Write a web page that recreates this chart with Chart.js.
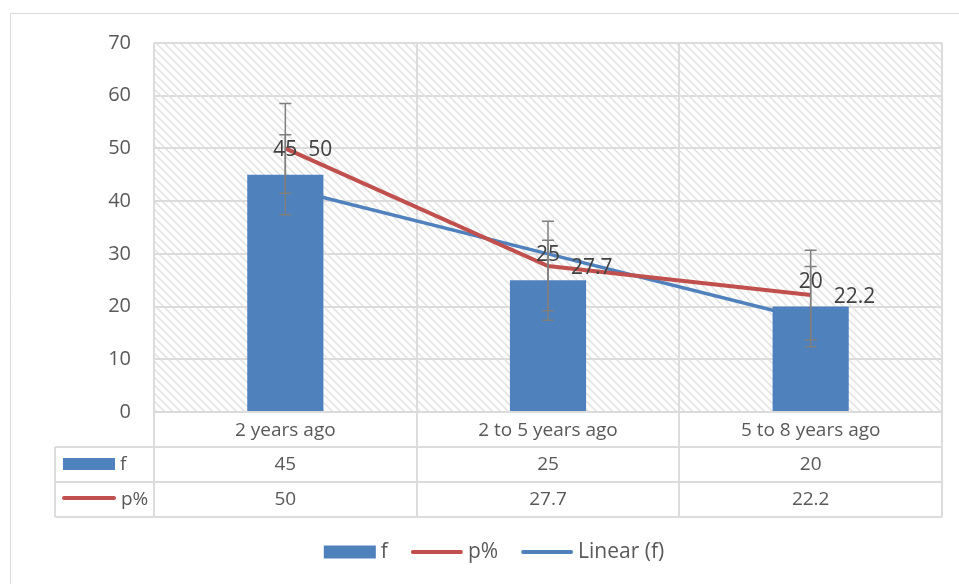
<!DOCTYPE html>
<html>
<head>
<meta charset="utf-8">
<script src="https://cdn.jsdelivr.net/npm/chart.js@4.4.1/dist/chart.umd.min.js"></script>
<style>
  html, body { margin: 0; padding: 0; background: #fff; }
  #wrap { width: 959px; height: 584px; position: relative; }
</style>
</head>
<body>
<div id="wrap"><canvas id="chart" width="959" height="584"></canvas></div>
<script>
// Categories and series
const categories = ['2 years ago', '2 to 5 years ago', '5 to 8 years ago'];
const fValues = [45, 25, 20];
const pValues = [50, 27.7, 22.2];
const trendF = [42.5, 30, 17.5];
// Error bar half-lengths
const fError = [7.6, 7.6, 7.6];
const pError = [8.5, 8.5, 8.5];
// Table row labels
const tableRows = ['f', 'p%'];

const BLUE = '#4F81BD';
const RED = '#C0504D';
const GRID = '#DCDCDC';
const TEXT = '#595959';
const FONT = '"Open Sans", "Noto Sans", sans-serif';

// Diagonal hatch for the plot background
function makeHatch() {
  const c = document.createElement('canvas');
  c.width = 8; c.height = 8;
  const g = c.getContext('2d');
  const img = g.createImageData(8, 8);
  for (let y = 0; y < 8; y++) {
    for (let x = 0; x < 8; x++) {
      const d = (x - y + 16) % 8;
      const v = d === 1 ? 226 : (d === 0 || d === 2) ? 238 : 255;
      const i = (y * 8 + x) * 4;
      img.data[i] = v; img.data[i + 1] = v; img.data[i + 2] = v; img.data[i + 3] = 255;
    }
  }
  g.putImageData(img, 0, 0);
  return c;
}

const backgroundPlugin = {
  id: 'hatchBg',
  beforeDraw(chart) {
    const { ctx, chartArea: a } = chart;
    ctx.save();
    // outer frame
    ctx.strokeStyle = '#D9D9D9';
    ctx.lineWidth = 1;
    ctx.beginPath();
    ctx.moveTo(10.5, 584);
    ctx.lineTo(10.5, 13.5);
    ctx.lineTo(959, 13.5);
    ctx.stroke();
    ctx.fillStyle = ctx.createPattern(makeHatch(), 'repeat');
    ctx.fillRect(a.left, a.top, a.right - a.left, a.bottom - a.top);
    ctx.restore();
  }
};

const errorBarPlugin = {
  id: 'errorBars',
  afterDatasetsDraw(chart) {
    const { ctx, scales: { x, y } } = chart;
    ctx.save();
    ctx.strokeStyle = '#7F7F7F';
    ctx.lineWidth = 1.5;
    const draw = (vals, errs) => {
      vals.forEach((v, i) => {
        const px = x.getPixelForValue(i);
        const top = y.getPixelForValue(v + errs[i]);
        const bot = y.getPixelForValue(v - errs[i]);
        ctx.beginPath();
        ctx.moveTo(px, top); ctx.lineTo(px, bot);
        ctx.moveTo(px - 6, top); ctx.lineTo(px + 6, top);
        ctx.moveTo(px - 6, bot); ctx.lineTo(px + 6, bot);
        ctx.stroke();
      });
    };
    draw(fValues, fError);
    draw(pValues, pError);

    // value labels
    ctx.fillStyle = '#404040';
    ctx.font = '21px ' + FONT;
    ctx.textBaseline = 'middle';
    fValues.forEach((v, i) => {
      ctx.textAlign = 'center';
      ctx.fillText(String(v), x.getPixelForValue(i), y.getPixelForValue(v) - 25);
    });
    pValues.forEach((v, i) => {
      ctx.textAlign = 'left';
      ctx.fillText(String(v), x.getPixelForValue(i) + 23, y.getPixelForValue(v) + 2);
    });
    ctx.restore();
  }
};

// Data table under the category axis, plus the legend row
const tablePlugin = {
  id: 'dataTable',
  afterDraw(chart) {
    const { ctx, chartArea: a, scales: { x } } = chart;
    const rowH = 35;
    const keyLeft = 55;
    const r1 = a.bottom + rowH, r2 = r1 + rowH, r3 = r2 + rowH;
    const bounds = [x.left];
    for (let i = 0; i < categories.length - 1; i++) {
      bounds.push((x.getPixelForValue(i) + x.getPixelForValue(i + 1)) / 2);
    }
    bounds.push(x.right);

    ctx.save();
    ctx.strokeStyle = GRID;
    ctx.lineWidth = 2;
    ctx.beginPath();
    [r1, r2, r3].forEach(ry => { ctx.moveTo(keyLeft, Math.round(ry)); ctx.lineTo(x.right, Math.round(ry)); });
    bounds.forEach(bx => { ctx.moveTo(Math.round(bx), a.bottom); ctx.lineTo(Math.round(bx), r3); });
    ctx.moveTo(keyLeft, r1); ctx.lineTo(keyLeft, r3);
    ctx.stroke();

    // row keys
    ctx.fillStyle = BLUE;
    ctx.fillRect(63, r1 + 11, 52, 12);
    ctx.strokeStyle = RED;
    ctx.lineWidth = 4;
    ctx.lineCap = 'round';
    ctx.beginPath();
    ctx.moveTo(64, r2 + 16); ctx.lineTo(114, r2 + 16);
    ctx.stroke();

    ctx.fillStyle = TEXT;
    ctx.font = '19px ' + FONT;
    ctx.textBaseline = 'middle';
    ctx.textAlign = 'left';
    ctx.fillText(tableRows[0], 120, r1 + rowH / 2);
    ctx.fillText(tableRows[1], 121, r2 + rowH / 2);

    ctx.textAlign = 'center';
    categories.forEach((c, i) => {
      const cx = x.getPixelForValue(i);
      ctx.fillText(String(fValues[i]), cx, r1 + rowH / 2);
      ctx.fillText(String(pValues[i]), cx, r2 + rowH / 2);
    });

    // legend: swatch, 5px gap, label, 23px gap to next item
    const dsets = chart.data.datasets;
    const ly = r3 + 35;
    const sw = 52;
    ctx.font = '21px ' + FONT;
    ctx.textAlign = 'left';
    const widths = dsets.map(ds => sw + 5 + ctx.measureText(ds.label).width);
    const total = widths.reduce((s, w) => s + w, 0) + 23 * (dsets.length - 1);
    let lx = 494 - total / 2;
    dsets.forEach((ds, i) => {
      if (ds.type === 'bar') {
        ctx.fillStyle = ds.backgroundColor;
        ctx.fillRect(lx, ly - 6.5, sw, 13);
      } else {
        ctx.strokeStyle = ds.borderColor;
        ctx.lineWidth = 4;
        ctx.lineCap = 'round';
        ctx.beginPath();
        ctx.moveTo(lx + 2, ly); ctx.lineTo(lx + sw - 2, ly);
        ctx.stroke();
      }
      ctx.fillStyle = TEXT;
      ctx.fillText(ds.label, lx + sw + 5, ly);
      lx += widths[i] + 23;
    });
    ctx.restore();
  }
};

new Chart(document.getElementById('chart'), {
  data: {
    labels: categories,
    datasets: [
      {
        type: 'bar',
        label: 'f',
        data: fValues,
        backgroundColor: BLUE,
        categoryPercentage: 1,
        barPercentage: 0.29,
        order: 1
      },
      {
        type: 'line',
        label: 'p%',
        data: pValues,
        borderColor: RED,
        backgroundColor: RED,
        borderWidth: 4,
        pointRadius: 0,
        tension: 0,
        order: 0
      },
      {
        type: 'line',
        label: 'Linear (f)',
        data: trendF,
        borderColor: BLUE,
        backgroundColor: BLUE,
        borderWidth: 3.5,
        pointRadius: 0,
        tension: 0,
        order: 2
      }
    ]
  },
  options: {
    responsive: false,
    animation: false,
    devicePixelRatio: 1,
    layout: { padding: { left: 0, top: 43, right: 17, bottom: 67 } },
    plugins: {
      tooltip: { enabled: false },
      legend: { display: false }
    },
    scales: {
      x: {
        offset: true,
        grid: { offset: true, color: GRID, lineWidth: 2, drawTicks: false },
        border: { display: false },
        ticks: { color: TEXT, font: { family: FONT, size: 19 }, padding: 7 },
        afterFit(s) { s.height = 105; }
      },
      y: {
        min: 0,
        max: 70,
        grid: { color: GRID, lineWidth: 2, drawTicks: false },
        border: { display: false },
        ticks: { stepSize: 10, color: TEXT, font: { family: FONT, size: 20 }, padding: 23 },
        afterFit(s) { s.width = 154; }
      }
    }
  },
  plugins: [backgroundPlugin, errorBarPlugin, tablePlugin]
});
</script>
</body>
</html>
